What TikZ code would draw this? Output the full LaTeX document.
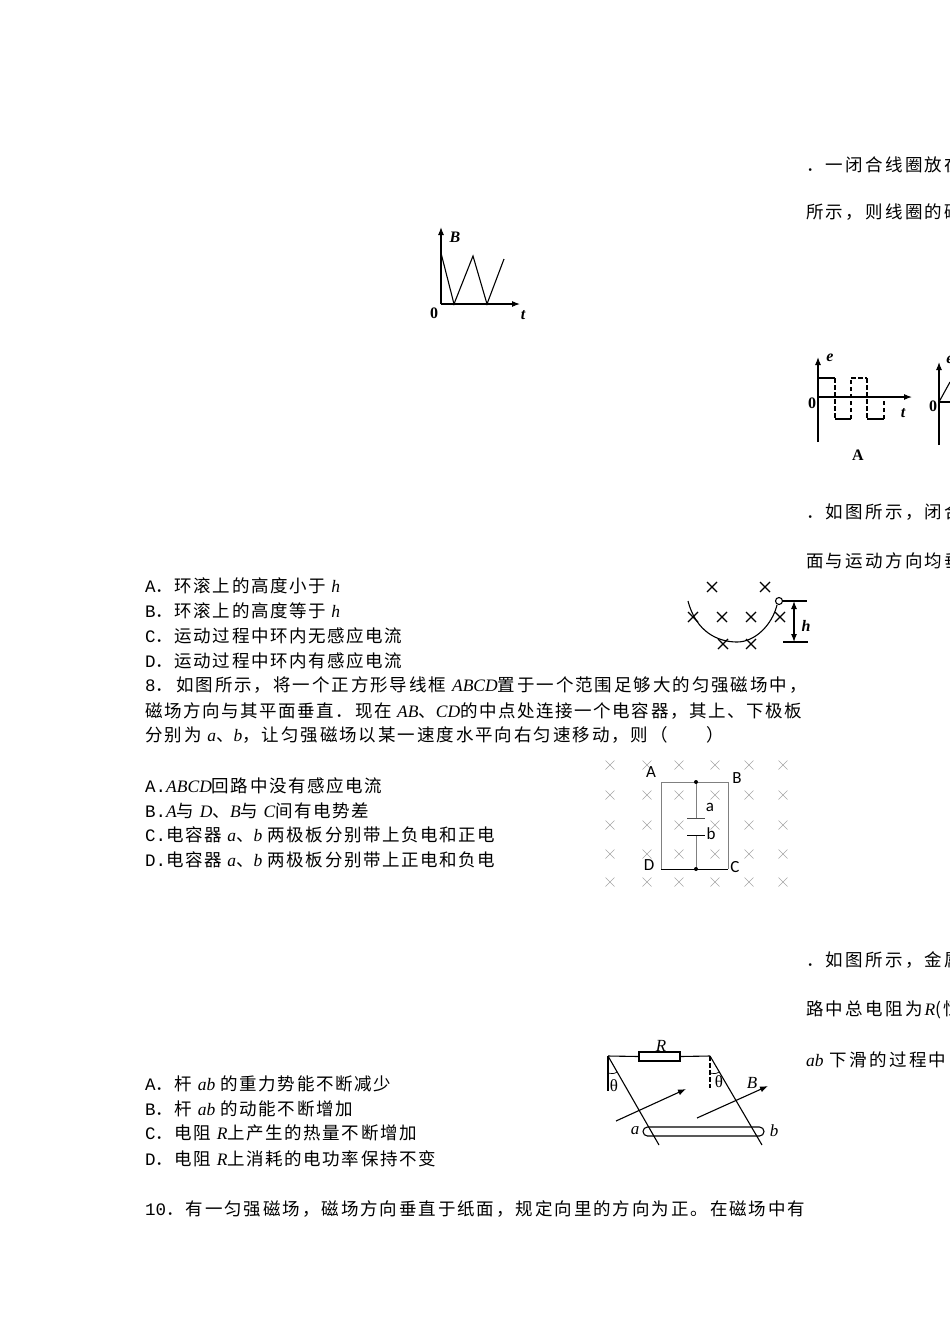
\documentclass[tikz,border=0pt]{standalone}
\usepackage{fontspec}
\usetikzlibrary{arrows.meta}
\setmainfont{Liberation Serif}
\setmonofont{Liberation Mono}
\newfontfamily\cjkm[LetterSpace=9]{Noto Sans CJK SC}
\newfontfamily\cjkn[LetterSpace=11]{Noto Sans CJK SC}
\newfontfamily\cjkw[LetterSpace=13]{Noto Sans CJK SC}
\newfontfamily\cari{Carlito}
\newcommand{\la}[1]{{\rmfamily\itshape #1}}
\newcommand{\lm}[1]{{\ttfamily #1}}
\tikzset{
    line/.style = {anchor = west, inner sep = 0, font = \fontsize{17.5}{20}\selectfont\cjkm},
    wideline/.style = {anchor = west, inner sep = 0, font = \fontsize{17.5}{20}\selectfont\cjkw},
    fullline/.style = {anchor = west, inner sep = 0, font = \fontsize{17.5}{20}\selectfont\cjkn},
    figlabel/.style = {inner sep = 0, font = \fontsize{16}{16}\selectfont\bfseries\itshape},
    figzero/.style = {inner sep = 0, font = \fontsize{16}{16}\selectfont\bfseries},
    thinlabel/.style = {inner sep = 0, font = \fontsize{17}{17}\selectfont\itshape},
    circlabel/.style = {inner sep = 0, font = \fontsize{17}{17}\selectfont\cari},
    graycross/.style = {draw = gray!70, line width = 0.5pt},
    blackcross/.style = {line width = 1.1pt},
    figline/.style = {line width = 1.1pt},
    dashline/.style = {line width = 1.1pt, dash pattern = on 4.5pt off 2.5pt},
    >={Latex[length = 8pt, width = 6pt]}
}
\begin{document}
\begin{tikzpicture}[x = 1pt, y = -1pt]
    \useasboundingbox (0, 0) rectangle (950, 1344);
    \clip (0, 0) rectangle (950, 1344);
    % text on the right edge
    \node [wideline] (first1) at (806, 165) {．一闭合线圈放在};
    \node [wideline] (first2) at (806, 212) {所示，则线圈的磁};
    \node [wideline] (sec1) at (806, 512) {．如图所示，闭合};
    \node [wideline] (sec2) at (806, 561) {面与运动方向均垂};
    \node [wideline] (third1) at (806, 960) {．如图所示，金属};
    \node [wideline] (third2) at (806, 1010) {路中总电阻为\hspace{2pt}\la{R}(恒};
    \node [wideline] (third3) at (806, 1060) {\la{ab} 下滑的过程中，};
    % question 7 answers
    \node [line] (ringA) at (145, 586) {\lm{A}．环滚上的高度小于 \la{h}};
    \node [line] (ringB) at (145, 611) {\lm{B}．环滚上的高度等于 \la{h}};
    \node [line] (ringC) at (145, 636) {\lm{C}．运动过程中环内无感应电流};
    \node [line] (ringD) at (145, 661) {\lm{D}．运动过程中环内有感应电流};
    % question 8
    \node [fullline] (qa) at (145, 685) {\lm{8}．\hspace{3pt}如图所示，将一个正方形导线框 \la{ABCD}置于一个范围足够大的匀强磁场中，};
    \node [line] (qb) at (145, 711) {磁场方向与其平面垂直．现在 \la{AB}、\la{CD}的中点处连接一个电容器，其上、下极板};
    \node [fullline] (qc) at (145, 735) {分别为 \la{a}、\la{b}，让匀强磁场以某一速度水平向右匀速移动，则（\hspace{2.2em}）};
    \node [line] (capA) at (145, 786) {\lm{A.}\la{ABCD}回路中没有感应电流};
    \node [line] (capB) at (145, 811) {\lm{B.}\la{A}与 \la{D}、\la{B}与 \la{C}间有电势差};
    \node [line] (capC) at (145, 835) {\lm{C.}电容器 \la{a}、\la{b} 两极板分别带上负电和正电};
    \node [line] (capD) at (145, 860) {\lm{D.}电容器 \la{a}、\la{b} 两极板分别带上正电和负电};
    % question 9 answers
    \node [line] (rodA) at (145, 1084) {\lm{A}．杆 \la{ab} 的重力势能不断减少};
    \node [line] (rodB) at (145, 1109) {\lm{B}．杆 \la{ab} 的动能不断增加};
    \node [line] (rodC) at (145, 1133) {\lm{C}．电阻 \la{R}上产生的热量不断增加};
    \node [line] (rodD) at (145, 1159) {\lm{D}．电阻 \la{R}上消耗的电功率保持不变};
    \node [fullline] (last) at (145, 1209) {\lm{10}．有一匀强磁场，磁场方向垂直于纸面，规定向里的方向为正。在磁场中有};
    % B against t
    \draw [figline, ->] (441, 304) -- (441, 227);
    \draw [figline, ->] (441, 304) -- (520, 304);
    \draw [figline] (441, 253) -- (454, 304) -- (473, 256) -- (487, 304) -- (504, 259);
    \node [figlabel] (axisB) at (455, 237) {B};
    \node [figzero] (zeroB) at (434, 313) {0};
    \node [figlabel] (axisT) at (523, 315) {t};
    % answer A, e against t
    \draw [figline, ->] (818, 442) -- (818, 357);
    \draw [figline, ->] (818, 397) -- (912, 397);
    \draw [figline] (818, 378) -- (835, 378);
    \draw [dashline] (835, 378) -- (835, 419);
    \draw [figline] (835, 419) -- (851, 419);
    \draw [dashline] (851, 419) -- (851, 378);
    \draw [dashline] (851, 378) -- (867, 378);
    \draw [dashline] (867, 378) -- (867, 419);
    \draw [figline] (867, 419) -- (884, 419);
    \draw [dashline] (884, 419) -- (884, 397);
    \node [figlabel] (axisE) at (830, 358) {e};
    \node [figzero] (zeroA) at (812, 403) {0};
    \node [figlabel] (axisTa) at (903, 413) {t};
    \node [figzero] (nameA) at (858, 455) {A};
    % start of answer B
    \draw [figline, ->] (939, 445) -- (939, 362);
    \draw [figline] (939, 402) -- (950, 402);
    \draw [figline] (939, 402) -- (950, 382);
    \node [figlabel] (axisEb) at (950, 360) {e};
    \node [figzero] (zeroC) at (933, 406) {0};
    % ring in the bowl
    \draw [figline] (688, 601) .. controls (696, 632) and (718, 642) .. (737, 642) .. controls (755, 642) and (772, 625) .. (777, 605);
    \draw [figline] (779, 601) circle [radius = 3.5];
    \draw [figline] (783, 601) -- (807, 601);
    \draw [figline] (783, 642) -- (808, 642);
    \draw [figline, <->] (794, 601) -- (794, 642);
    \node [figlabel] (height) at (806, 626) {h};
    \foreach \x/\y in {712/587, 765/587, 693/617, 722/617, 751/617, 780/617, 723/644, 751/644} {
        \draw [blackcross] (\x - 5, \y - 5) -- (\x + 5, \y + 5);
        \draw [blackcross] (\x - 5, \y + 5) -- (\x + 5, \y - 5);
    }
    % frame ABCD
    \foreach \x in {610, 647, 679, 715, 749, 783} {
        \foreach \y in {765, 795, 825, 854, 882} {
            \draw [graycross] (\x - 4.5, \y - 4.5) -- (\x + 4.5, \y + 4.5);
            \draw [graycross] (\x - 4.5, \y + 4.5) -- (\x + 4.5, \y - 4.5);
        }
    }
    \coordinate (cornerA) at (661, 782);
    \coordinate (cornerB) at (728, 782);
    \coordinate (cornerC) at (728, 869);
    \coordinate (cornerD) at (661, 869);
    \coordinate (midtop) at (696, 782);
    \coordinate (midbot) at (696, 869);
    \coordinate (plateA) at (696, 818);
    \coordinate (plateB) at (696, 835);
    \draw [gray, line width = 1pt] (cornerD) -- (cornerA) -- (cornerB) -- (cornerC);
    \draw [line width = 0.8pt] (cornerD) -- (cornerC);
    \draw [gray, line width = 1pt] (midtop) -- (plateA);
    \draw [gray, line width = 1pt] (plateB) -- (midbot);
    \draw [black!70, line width = 1pt] (687, 818) -- (705, 818);
    \draw [line width = 0.8pt] (687, 835) -- (705, 835);
    \fill (midtop) circle [radius = 2];
    \fill (midbot) circle [radius = 2];
    \node [circlabel] (labelA) at (651, 772) {A};
    \node [circlabel] (labelB) at (737, 778) {B};
    \node [circlabel] (labela) at (710, 807) {a};
    \node [circlabel] (labelb) at (711, 834) {b};
    \node [circlabel] (labelD) at (649, 865) {D};
    \node [circlabel] (labelC) at (735, 867) {C};
    % rails with rod
    \node [draw, line width = 1.1pt, minimum width = 41pt, minimum height = 9pt, inner sep = 0] (resistor) at (659.5, 1056.5) {};
    \coordinate (topleft) at (608, 1056);
    \coordinate (topright) at (710, 1056);
    \draw [figline] (topleft) -- (resistor.west);
    \draw [figline] (resistor.east) -- (topright);
    \draw [figline] (topleft) -- (659, 1145);
    \draw [figline] (topright) -- (762, 1145);
    \draw [figline] (topleft) -- (608, 1091);
    \draw [dashline] (topright) -- (710, 1088);
    \draw [line width = 0.7pt] (608, 1073) .. controls (611, 1074) and (614, 1074) .. (617, 1072);
    \draw [line width = 0.7pt] (710, 1073) .. controls (713, 1074) and (716, 1074) .. (719, 1072);
    \draw [figline, ->] (616, 1121) -- (686, 1089);
    \draw [figline, ->] (697, 1118) -- (768, 1086);
    \draw [figline, rounded corners = 4.5pt] (643, 1127) rectangle (764, 1136);
    \node [thinlabel] (labelR) at (661, 1046) {R};
    \node [thinlabel] (labelBf) at (752, 1083) {B};
    \node [thinlabel, font = \fontsize{17}{17}\selectfont] (thetaL) at (614, 1086) {θ};
    \node [thinlabel, font = \fontsize{17}{17}\selectfont] (thetaR) at (719, 1082) {θ};
    \node [thinlabel] (labelaf) at (635, 1131) {a};
    \node [thinlabel] (labelbf) at (774, 1131) {b};
\end{tikzpicture}
\end{document}
